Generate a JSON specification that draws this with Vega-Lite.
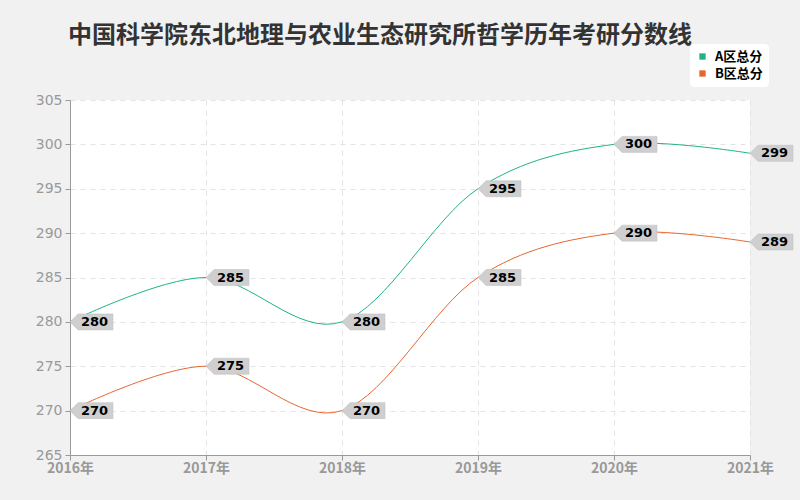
{
  "$schema": "https://vega.github.io/schema/vega-lite/v6.json",
  "width": 680,
  "height": 355,
  "autosize": {"type": "none"},
  "padding": {"left": 70, "top": 100, "right": 50, "bottom": 45},
  "background": "#f1f1f1",
  "title": {
    "text": "中国科学院东北地理与农业生态研究所哲学历年考研分数线",
    "anchor": "start",
    "frame": "group",
    "offset": -4,
    "dx": -2,
    "fontSize": 24,
    "fontWeight": "bold",
    "color": "#333333",
    "font": "Noto Sans CJK SC"
  },
  "config": {
    "view": {"stroke": null, "fill": "#ffffff"},
    "font": "DejaVu Sans"
  },
  "data": {
    "values": [
      {"year": "2016年", "series": "A区总分", "score": 280},
      {"year": "2017年", "series": "A区总分", "score": 285},
      {"year": "2018年", "series": "A区总分", "score": 280},
      {"year": "2019年", "series": "A区总分", "score": 295},
      {"year": "2020年", "series": "A区总分", "score": 300},
      {"year": "2021年", "series": "A区总分", "score": 299},
      {"year": "2016年", "series": "B区总分", "score": 270},
      {"year": "2017年", "series": "B区总分", "score": 275},
      {"year": "2018年", "series": "B区总分", "score": 270},
      {"year": "2019年", "series": "B区总分", "score": 285},
      {"year": "2020年", "series": "B区总分", "score": 290},
      {"year": "2021年", "series": "B区总分", "score": 289}
    ]
  },
  "encoding": {
    "x": {
      "field": "year",
      "type": "ordinal",
      "scale": {"type": "point", "padding": 0},
      "axis": {
        "title": null,
        "labelAngle": 0,
        "labelColor": "#999999",
        "labelFontSize": 14,
        "labelFont": "Noto Sans CJK SC",
        "labelFontWeight": "bold",
        "labelPadding": 1,
        "domainColor": "#999999",
        "tickColor": "#999999",
        "tickSize": 5,
        "grid": true,
        "gridColor": "#e3e3e3",
        "gridDash": [5, 5]
      }
    },
    "y": {
      "field": "score",
      "type": "quantitative",
      "scale": {"domain": [265, 305], "nice": false, "zero": false},
      "axis": {
        "title": null,
        "values": [265, 270, 275, 280, 285, 290, 295, 300, 305],
        "labelColor": "#999999",
        "labelFontSize": 14,
        "labelPadding": 3,
        "domainColor": "#999999",
        "tickColor": "#999999",
        "tickSize": 5,
        "grid": true,
        "gridColor": "#e3e3e3",
        "gridDash": [5, 5]
      }
    }
  },
  "layer": [
    {
      "mark": {"type": "line", "interpolate": "cardinal", "strokeWidth": 1},
      "encoding": {
        "color": {
          "field": "series",
          "type": "nominal",
          "scale": {"domain": ["A区总分", "B区总分"], "range": ["#1fb386", "#e5672f"]},
          "legend": {
            "title": null,
            "orient": "none",
            "legendX": 620,
            "legendY": -56,
            "symbolType": "square",
            "symbolSize": 40,
            "labelFontSize": 13,
            "labelFontWeight": "bold",
            "labelColor": "#000000",
            "labelFont": "Noto Sans CJK SC",
            "fillColor": "#ffffff",
            "cornerRadius": 4,
            "padding": 6,
            "rowPadding": 3,
            "labelOffset": 6,
            "encode": {
              "symbols": {"update": {"fill": {"scale": "color", "field": "value"}, "strokeWidth": {"value": 0}}}
            }
          }
        }
      }
    },
    {
      "mark": {
        "type": "point",
        "shape": "M0,0 L0.8,-0.8 L4.3,-0.8 L4.3,0.8 L0.8,0.8 Z",
        "size": 400,
        "filled": true,
        "fill": "#cfcfcf",
        "opacity": 1,
        "stroke": "#bdbdbd",
        "strokeWidth": 0.5
      },
      "encoding": {"detail": {"field": "series"}}
    },
    {
      "mark": {
        "type": "text",
        "align": "left",
        "baseline": "middle",
        "dx": 11,
        "dy": 0,
        "fontSize": 13,
        "fontWeight": "bold",
        "color": "#000000"
      },
      "encoding": {"text": {"field": "score", "type": "quantitative"}}
    }
  ]
}
